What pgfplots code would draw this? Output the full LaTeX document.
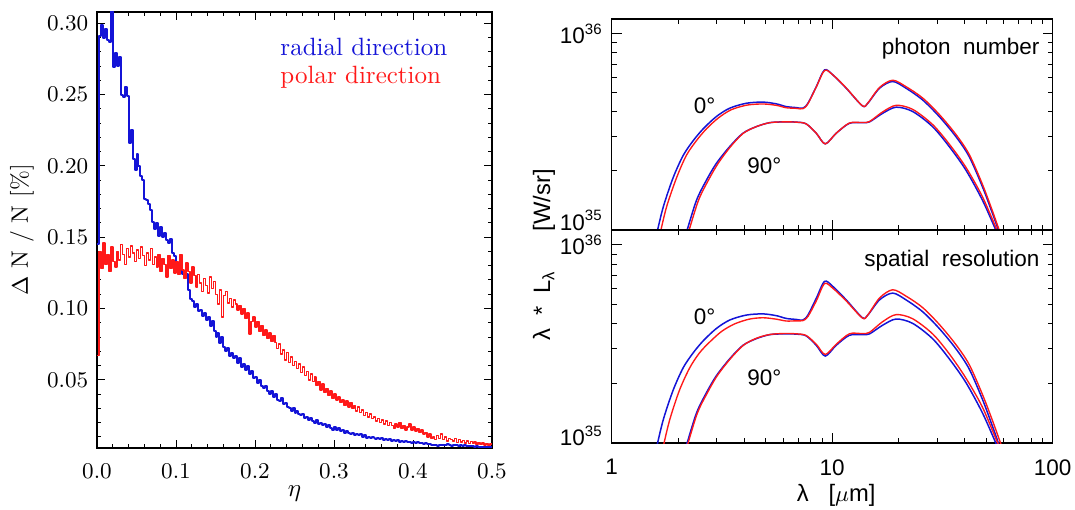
\documentclass[border=0pt]{standalone}
\usepackage{fontspec}
\usepackage{pgfplots}
\pgfplotsset{compat=1.18}
\usepackage{pgfplotstable}
\newfontfamily\idlsans{Liberation Sans}
\definecolor{idlblue}{RGB}{20,20,215}
\definecolor{idlred}{RGB}{255,25,25}

\pgfplotstableread{
b r
0.145 0.067
0.291 0.140
0.299 0.128
0.290 0.146
0.296 0.131
0.288 0.138
0.287 0.126
0.312 0.143
0.269 0.133
0.279 0.129
0.270 0.140
0.276 0.134
0.250 0.145
0.248 0.138
0.255 0.131
0.249 0.142
0.216 0.136
0.225 0.144
0.205 0.139
0.197 0.133
0.208 0.141
0.200 0.135
0.193 0.143
0.190 0.137
0.177 0.130
0.176 0.139
0.173 0.134
0.169 0.142
0.161 0.131
0.156 0.136
0.160 0.129
0.151 0.138
0.157 0.126
0.150 0.135
0.153 0.131
0.148 0.122
0.146 0.137
0.149 0.128
0.139 0.134
0.137 0.125
0.131 0.133
0.127 0.124
0.131 0.138
0.124 0.127
0.122 0.121
0.124 0.132
0.113 0.126
0.107 0.118
0.105 0.129
0.101 0.123
0.103 0.115
0.098 0.124
0.099 0.118
0.095 0.112
0.097 0.121
0.092 0.116
0.094 0.111
0.088 0.122
0.091 0.114
0.084 0.119
0.080 0.110
0.083 0.103
0.076 0.113
0.080 0.094
0.073 0.109
0.070 0.112
0.072 0.104
0.067 0.107
0.069 0.101
0.065 0.106
0.067 0.103
0.062 0.099
0.065 0.102
0.059 0.096
0.061 0.100
0.057 0.093
0.060 0.097
0.054 0.082
0.056 0.091
0.051 0.094
0.052 0.087
0.048 0.091
0.050 0.084
0.046 0.088
0.044 0.081
0.046 0.085
0.042 0.079
0.040 0.083
0.042 0.077
0.038 0.081
0.040 0.076
0.036 0.072
0.035 0.075
0.037 0.068
0.033 0.071
0.034 0.064
0.031 0.069
0.030 0.062
0.028 0.066
0.030 0.060
0.027 0.063
0.028 0.058
0.026 0.061
0.025 0.055
0.026 0.059
0.023 0.053
0.024 0.056
0.022 0.050
0.023 0.054
0.021 0.049
0.020 0.052
0.022 0.046
0.019 0.049
0.020 0.043
0.018 0.047
0.019 0.041
0.017 0.044
0.018 0.039
0.016 0.042
0.015 0.037
0.017 0.040
0.015 0.036
0.016 0.038
0.014 0.034
0.015 0.036
0.013 0.032
0.014 0.035
0.013 0.031
0.012 0.034
0.013 0.030
0.011 0.032
0.012 0.028
0.011 0.031
0.012 0.027
0.010 0.029
0.011 0.025
0.0095 0.027
0.010 0.024
0.009 0.026
0.0098 0.023
0.0095 0.024
0.0088 0.021
0.0092 0.023
0.0082 0.020
0.0090 0.022
0.0080 0.019
0.0085 0.021
0.0076 0.018
0.0082 0.020
0.0074 0.018
0.0078 0.016
0.0070 0.019
0.0075 0.017
0.0067 0.020
0.0072 0.016
0.0064 0.018
0.0069 0.015
0.0062 0.017
0.0066 0.019
0.0060 0.015
0.0063 0.017
0.0057 0.014
0.0061 0.016
0.0055 0.013
0.0058 0.015
0.0052 0.012
0.0056 0.013
0.0050 0.010
0.0053 0.012
0.0046 0.009
0.0040 0.010
0.0045 0.008
0.0038 0.011
0.0043 0.009
0.0040 0.012
0.0046 0.008
0.0041 0.010
0.0048 0.007
0.0043 0.009
0.0039 0.008
0.0044 0.007
0.0040 0.009
0.0046 0.006
0.0038 0.008
0.0042 0.0065
0.0036 0.0075
0.0041 0.0058
0.0035 0.0072
0.0039 0.0055
0.0033 0.0068
0.0036 0.0052
0.0031 0.0064
0.0034 0.0048
0.0029 0.0060
0.0032 0.0045
0.0028 0.0057
0.0031 0.0043
0.0027 0.0055
0.0030 0.0041
0.0026 0.0050
0.0026 0.0050
}\histdata

\begin{document}
\begin{tikzpicture}
\path[use as bounding box] (0,0) rectangle (430pt,203.6pt);

% ---------------- left panel ----------------
\begin{axis}[
  at={(38.8pt,24.4pt)}, anchor=south west,
  scale only axis, width=158pt, height=174.4pt,
  xmin=0, xmax=0.5, ymin=0.0022, ymax=0.3079,
  xtick={0,0.1,0.2,0.3,0.4,0.5},
  minor xtick={0.02,0.04,0.06,0.08,0.12,0.14,0.16,0.18,0.22,0.24,0.26,0.28,0.32,0.34,0.36,0.38,0.42,0.44,0.46,0.48},
  ytick={0.05,0.10,0.15,0.20,0.25,0.30},
  minor ytick={0.01,0.02,0.03,0.04,0.06,0.07,0.08,0.09,0.11,0.12,0.13,0.14,0.16,0.17,0.18,0.19,0.21,0.22,0.23,0.24,0.26,0.27,0.28,0.29},
  tick align=inside, xtick pos=both, ytick pos=both,
  major tick length=3.2pt, minor tick length=1.6pt,
  every tick/.style={black, line width=0.4pt},
  axis line style={line width=0.5pt},
  xticklabel style={/pgf/number format/fixed, /pgf/number format/fixed zerofill, /pgf/number format/precision=1, /tikz/yshift=-3pt},
  yticklabel style={/pgf/number format/fixed, /pgf/number format/fixed zerofill, /pgf/number format/precision=2},
  tick label style={font=\fontsize{9.5}{11}\selectfont},
  every axis x label/.style={at={(axis description cs:0.5,-0.105)}, anchor=center},
  every axis y label/.style={at={(axis description cs:-0.19,0.5)}, rotate=90, anchor=center},
  xlabel={\fontsize{10}{12}\selectfont$\eta$},
  ylabel={\fontsize{9.5}{11}\selectfont$\Delta$ N / N [\%]},
]
\addplot[const plot mark left, color=idlblue, line width=0.8pt, line join=round]
  table[x expr=\coordindex*0.0025, y=b] {\histdata};
\addplot[const plot mark left, color=idlred, line width=0.6pt, line join=round]
  table[x expr=\coordindex*0.0025, y=r] {\histdata};
\node[anchor=base west, text=idlblue, font=\fontsize{10}{12}\selectfont, inner sep=0pt] at (axis cs:0.2316,0.2771) {radial direction};
\node[anchor=base west, text=idlred, font=\fontsize{10}{12}\selectfont, inner sep=0pt] at (axis cs:0.2316,0.2581) {polar direction};
\end{axis}

% ---------------- right top panel ----------------
\begin{axis}[
  at={(244.68pt,111.6pt)}, anchor=south west,
  scale only axis, width=176.4pt, height=84.4pt,
  xmode=log, ymode=log,
  xmin=1, xmax=100, ymin=1, ymax=11.9,
  tick align=inside, xtick pos=both, ytick pos=both,
  xtick={1,10,100},
  minor xtick={2,3,4,5,6,7,8,9,20,30,40,50,60,70,80,90},
  ytick={1,10},
  minor ytick={2,3,4,5,6,7,8,9},
  major tick length=4pt, minor tick length=2pt,
  tick label style={font=\idlsans\fontsize{9}{10}\selectfont},
  every tick/.style={black, line width=0.4pt},
  axis line style={line width=0.5pt},
  xticklabels={,,},
  yticklabels={{\raisebox{3.8pt}[\height][\depth]{10\textsuperscript{35}}},{10\textsuperscript{36}}},
]
\addplot[idlblue, line width=0.6pt, smooth] coordinates {
(1.55,0.79) (1.615,1.0) (1.72,1.33) (1.90,1.85) (2.11,2.40) (2.34,2.85) (2.60,3.28) (2.98,3.784) (3.43,4.178) (4.08,4.426) (4.85,4.487) (5.58,4.395) (6.19,4.256) (6.87,4.207) (7.36,4.178) (7.76,4.426) (8.47,5.383) (9.23,6.546) (10.06,6.18) (11.57,5.284) (13.7,4.295) (14.5,4.426) (16.4,5.284) (18.8,5.715) (21.6,5.284) (25.7,4.603) (30.6,3.784) (36.4,2.992) (41.8,2.366) (48.0,1.663) (53.3,1.216) (56.7,1.0) (60,0.83)};
\addplot[idlblue, line width=0.6pt, smooth] coordinates {
(2.09,0.83) (2.198,1.0) (2.427,1.422) (2.692,1.799) (2.985,2.188) (3.428,2.661) (3.936,3.112) (4.529,3.365) (5.2,3.524) (5.97,3.556) (6.871,3.547) (7.621,3.475) (8.472,3.112) (9.3,2.748) (10.42,3.112) (11.97,3.499) (13.74,3.524) (14.76,3.556) (16.94,3.936) (19.5,4.227) (23.17,4.018) (28.51,3.365) (33.96,2.661) (40.36,2.023) (47.97,1.422) (55.21,1.0) (60.3,0.80)};
\addplot[idlred, line width=0.55pt, smooth] coordinates {
(1.60,0.79) (1.672,1.0) (1.78,1.33) (1.97,1.85) (2.18,2.40) (2.42,2.85) (2.69,3.28) (3.05,3.73) (3.48,4.10) (4.1,4.33) (4.85,4.39) (5.58,4.32) (6.19,4.20) (6.87,4.17) (7.36,4.15) (7.76,4.40) (8.47,5.36) (9.23,6.50) (10.06,6.18) (11.57,5.30) (13.7,4.30) (14.5,4.44) (16.4,5.33) (18.8,5.80) (21.6,5.38) (25.7,4.71) (30.6,3.88) (36.4,3.07) (41.8,2.43) (48.0,1.71) (53.3,1.25) (57.2,1.0) (61,0.84)};
\addplot[idlred, line width=0.55pt, smooth] coordinates {
(2.13,0.83) (2.244,1.0) (2.478,1.422) (2.748,1.799) (3.04,2.188) (3.46,2.661) (3.95,3.112) (4.53,3.365) (5.2,3.524) (5.97,3.556) (6.87,3.547) (7.62,3.475) (8.47,3.112) (9.3,2.748) (10.42,3.112) (11.97,3.51) (13.74,3.53) (14.76,3.57) (16.94,4.00) (19.5,4.32) (23.17,4.12) (28.51,3.45) (33.96,2.74) (40.36,2.09) (47.97,1.48) (55.9,1.0) (61,0.82)};
\node[anchor=base east, font=\idlsans\fontsize{9}{10}\selectfont, inner sep=0pt] at (axis cs:87.6,7.81) {photon\ \ number};
\node[anchor=base west, font=\idlsans\fontsize{9}{10}\selectfont, inner sep=0pt] at (axis cs:2.345,3.94) {0°};
\node[anchor=base west, font=\idlsans\fontsize{9}{10}\selectfont, inner sep=0pt] at (axis cs:4.10,1.95) {90°};
\end{axis}

% ---------------- right bottom panel ----------------
\begin{axis}[
  at={(244.68pt,26.4pt)}, anchor=south west,
  scale only axis, width=176.4pt, height=85.2pt,
  xmode=log, ymode=log,
  xmin=1, xmax=100, ymin=1, ymax=11.9,
  tick align=inside, xtick pos=both, ytick pos=both,
  xtick={1,10,100},
  minor xtick={2,3,4,5,6,7,8,9,20,30,40,50,60,70,80,90},
  ytick={1,10},
  minor ytick={2,3,4,5,6,7,8,9},
  major tick length=4pt, minor tick length=2pt,
  tick label style={font=\idlsans\fontsize{9}{10}\selectfont},
  every tick/.style={black, line width=0.4pt},
  axis line style={line width=0.5pt},
  xticklabels={1,10,100},
  xticklabel style={/tikz/yshift=-3pt},
  yticklabels={{\raisebox{2.8pt}[\height][\depth]{10\textsuperscript{35}}},{10\textsuperscript{36}}},
  every axis x label/.style={at={(axis description cs:0.509,-0.244)}, anchor=center},
  xlabel={\idlsans\fontsize{9.5}{11}\selectfont λ\ \ \ [$\mu$m]},
]
\addplot[idlblue, line width=0.6pt, smooth] coordinates {
(1.55,0.79) (1.615,1.0) (1.72,1.33) (1.90,1.85) (2.11,2.40) (2.34,2.85) (2.60,3.28) (2.98,3.784) (3.43,4.178) (4.08,4.426) (4.85,4.487) (5.58,4.395) (6.19,4.256) (6.87,4.207) (7.36,4.178) (7.76,4.426) (8.47,5.383) (9.23,6.546) (10.06,6.18) (11.57,5.284) (13.7,4.295) (14.5,4.426) (16.4,5.284) (18.8,5.715) (21.6,5.284) (25.7,4.603) (30.6,3.784) (36.4,2.992) (41.8,2.366) (48.0,1.663) (53.3,1.216) (56.7,1.0) (60,0.83)};
\addplot[idlblue, line width=0.6pt, smooth] coordinates {
(2.09,0.83) (2.198,1.0) (2.427,1.422) (2.692,1.799) (2.985,2.188) (3.428,2.661) (3.936,3.112) (4.529,3.365) (5.2,3.524) (5.97,3.556) (6.871,3.547) (7.621,3.475) (8.472,3.112) (9.3,2.748) (10.42,3.112) (11.97,3.499) (13.74,3.524) (14.76,3.556) (16.94,3.936) (19.5,4.227) (23.17,4.018) (28.51,3.365) (33.96,2.661) (40.36,2.023) (47.97,1.422) (55.21,1.0) (60.3,0.80)};
\addplot[idlred, line width=0.55pt, smooth] coordinates {
(1.66,0.79) (1.728,1.0) (1.84,1.33) (2.03,1.85) (2.26,2.40) (2.50,2.85) (2.77,3.22) (3.15,3.66) (3.6,3.99) (4.2,4.22) (4.85,4.29) (5.58,4.22) (6.19,4.13) (6.87,4.14) (7.36,4.15) (7.76,4.35) (8.47,5.22) (9.23,6.38) (10.06,6.05) (11.57,5.22) (13.7,4.28) (14.5,4.43) (16.4,5.40) (18.8,5.94) (21.6,5.52) (25.7,4.83) (30.6,3.97) (36.4,3.14) (41.8,2.49) (48.0,1.76) (53.3,1.30) (58.0,1.0) (62,0.82)};
\addplot[idlred, line width=0.55pt, smooth] coordinates {
(2.12,0.83) (2.22,1.0) (2.45,1.422) (2.72,1.799) (3.01,2.188) (3.45,2.661) (3.95,3.112) (4.53,3.38) (5.2,3.53) (5.97,3.57) (6.87,3.56) (7.62,3.49) (8.47,3.15) (9.3,2.80) (10.42,3.15) (11.97,3.56) (13.74,3.57) (14.76,3.62) (16.94,4.10) (19.5,4.45) (23.17,4.24) (28.51,3.56) (33.96,2.82) (40.36,2.13) (47.97,1.52) (56.3,1.0) (61.5,0.81)};
\node[anchor=base east, font=\idlsans\fontsize{9}{10}\selectfont, inner sep=0pt] at (axis cs:87.6,7.82) {spatial\ \ resolution};
\node[anchor=base west, font=\idlsans\fontsize{9}{10}\selectfont, inner sep=0pt] at (axis cs:2.345,3.96) {0°};
\node[anchor=base west, font=\idlsans\fontsize{9}{10}\selectfont, inner sep=0pt] at (axis cs:4.10,1.96) {90°};
\end{axis}

% shared y label of the right panels
\node[rotate=90, anchor=center, inner sep=0pt, font=\idlsans\fontsize{9.5}{11}\selectfont] at (217.6pt,101.6pt) {λ\ \ *\ \ L\textsubscript{λ}\ \ \ \ \ \ [W/sr]};
\end{tikzpicture}
\end{document}
